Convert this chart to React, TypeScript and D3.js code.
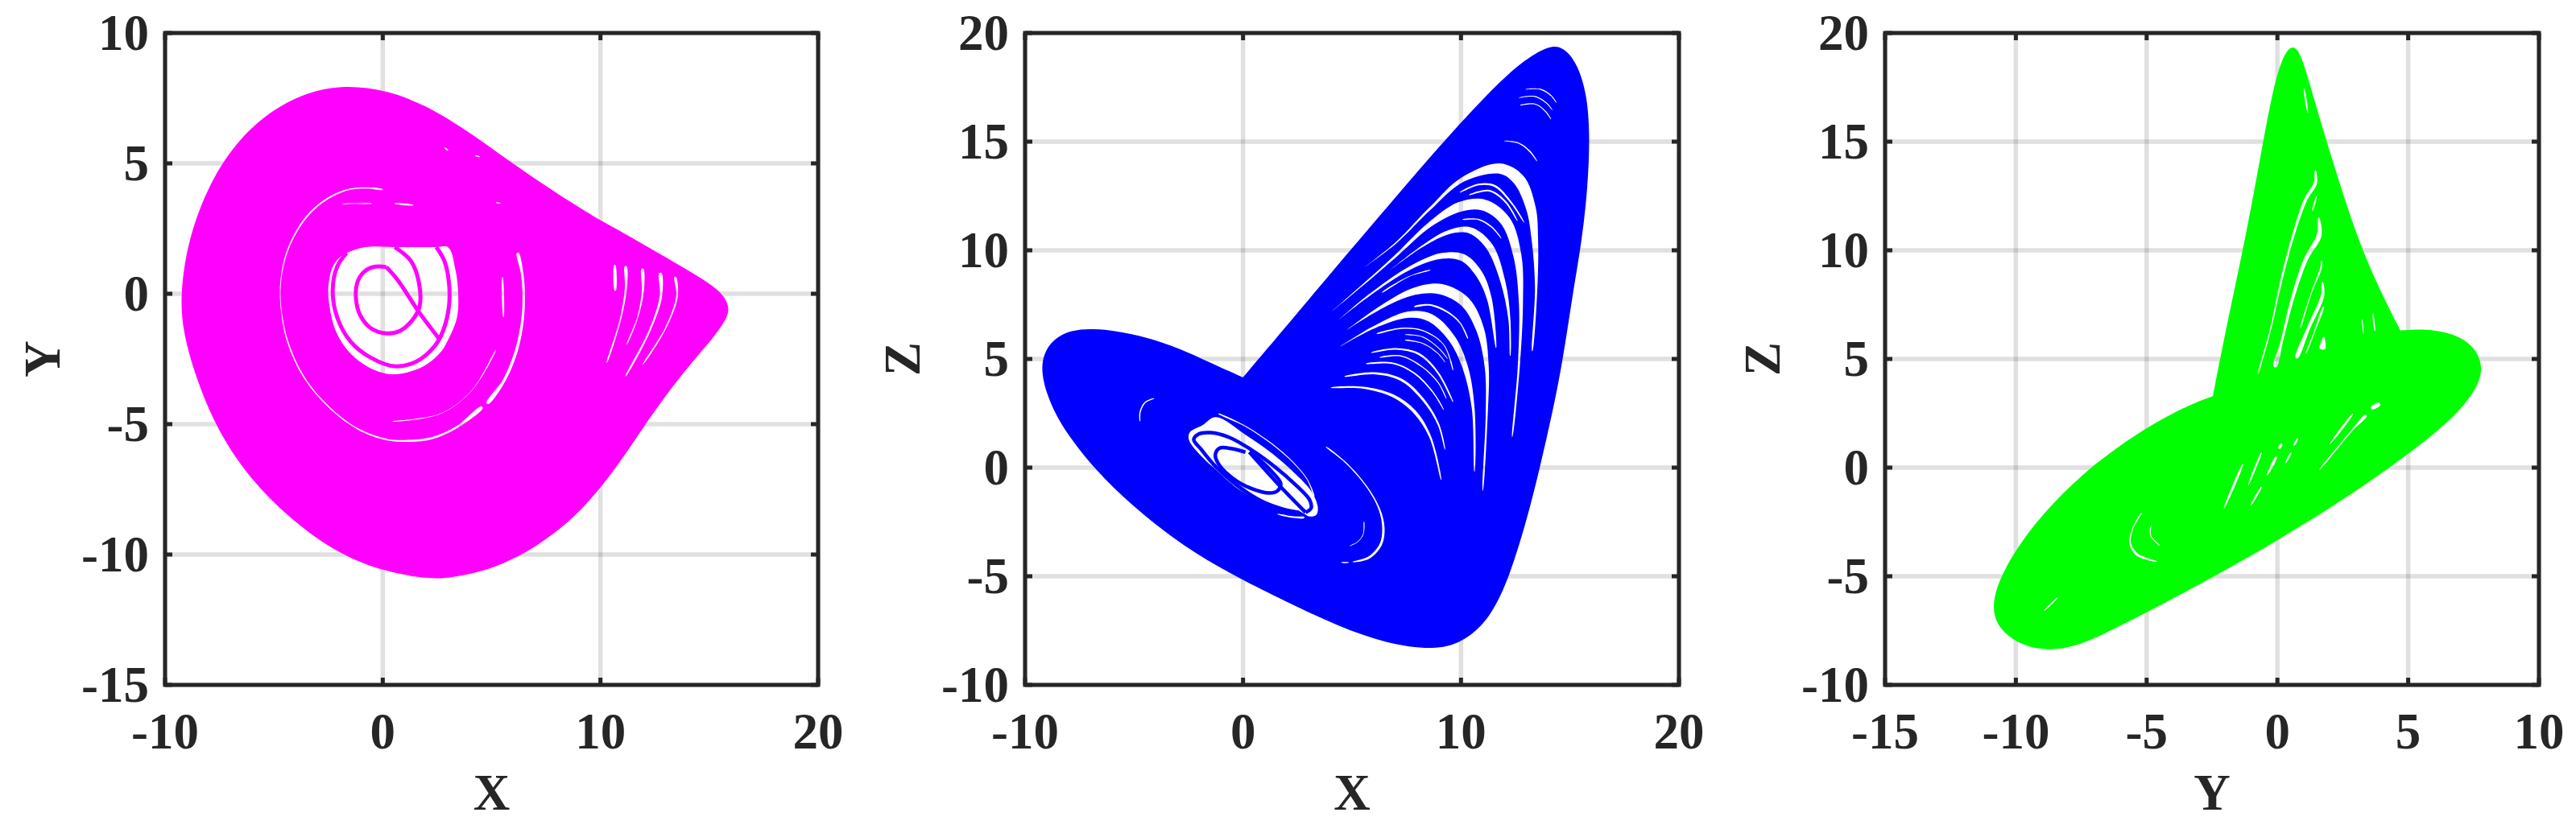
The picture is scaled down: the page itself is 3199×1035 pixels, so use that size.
import React from "react";
import * as d3 from "d3";

type P = number[];

// ---------- Outlines of the filled attractor projections (data units) ----------
const xyOutline: P[] = [[-9.3,0],[-8.95,2.08],[-7.95,4.3],[-6.6,5.95],[-5.08,7.07],[-3.3,7.8],[-1.58,8.0],[0.18,7.8],[1.9,7.27],[3.9,6.25],[5.9,5.03],[7.9,3.9],[9.9,2.85],[10.54,2.59],[12.75,1.51],[15.22,0.33],[15.77,-0.19],[15.92,-0.6],[15.77,-1.01],[15.09,-1.78],[14.6,-2.24],[13.62,-3.22],[12.75,-4.2],[12.01,-5.07],[11.15,-6.15],[10.17,-7.28],[9.06,-8.36],[7.83,-9.24],[6.35,-10.06],[4.74,-10.63],[3.14,-10.89],[2.2,-10.95],[-0.07,-10.65],[-2.3,-9.85],[-4.3,-8.6],[-6.1,-7.1],[-7.6,-5.25],[-8.6,-3.2],[-9.2,-1.4]];
const xzOutline: P[] = [[0,4.15],[0,4.15],[0,4.15],[1.85,6.34],[4.09,9.02],[6.58,11.95],[9.08,14.88],[11.3,17.3],[12.8,18.7],[14.06,19.45],[14.7,19.35],[15.3,18.66],[15.76,17.3],[15.92,15.4],[15.82,12.9],[15.54,10.38],[15.11,7.92],[14.68,4.96],[14.19,2.5],[13.63,0.04],[13.02,-2.43],[12.22,-5.01],[11.6,-6.37],[10.93,-7.35],[9.95,-8.09],[8.72,-8.4],[6.58,-8.1],[4.34,-7.3],[1.85,-6.1],[-0.15,-5.12],[-2.72,-3.66],[-5.18,-1.69],[-6.78,-0.09],[-7.77,1.15],[-8.51,2.25],[-9,3.36],[-9.25,4.35],[-9.18,5.21],[-8.69,5.93],[-7.89,6.33],[-6.9,6.4],[-5.8,6.29],[-4.45,6.01],[-2.97,5.52],[-1.49,4.82],[0,4.15],[0,4.15],[0,4.15]];
const yzOutline: P[] = [[-2.47,3.29],[-2.47,3.29],[-2.47,3.29],[-1.85,7.07],[-1.23,10.49],[-0.6,14.63],[-0.19,17.32],[0.2,18.95],[0.58,19.5],[0.92,19.02],[1.37,17.07],[2.1,14.15],[2.93,10.98],[3.76,8.54],[4.7,6.31],[4.7,6.31],[4.7,6.31],[5.63,6.39],[6.67,6.2],[7.5,5.65],[7.9,4.63],[7.6,3.54],[6.67,2.2],[5.0,0.61],[2.72,-1.34],[-0.39,-3.66],[-3.51,-5.73],[-6.63,-7.68],[-7.88,-8.3],[-8.92,-8.42],[-9.95,-8.1],[-10.72,-7.32],[-10.93,-6.34],[-10.58,-4.88],[-9.33,-2.56],[-7.46,-0.24],[-5.38,1.59],[-3.51,2.83],[-2.47,3.29],[-2.47,3.29],[-2.47,3.29]];

// ---------- Open central holes ----------
const xyHoles: P[][] = [[[-0.8,1.79],[0.8,1.79],[2.4,1.79],[3.02,1.77],[3.33,0.95],[3.45,0.23],[3.41,-0.91],[2.9,-1.93],[2.71,-2.19],[1.91,-2.76],[0.55,-3.09],[-0.55,-2.86],[-1.54,-2.24],[-2.16,-1.42],[-2.46,-0.39],[-2.5,0.23],[-2.34,0.95],[-2.03,1.36],[-1.66,1.56]]];
const xzHoles: P[][] = [[[-1.25,2.32],[0.1,1.52],[1.34,0.65],[2.32,-0.21],[3.12,-1.07],[3.43,-1.81],[3.36,-2.18],[3.06,-2.25],[2.57,-2.0],[1.83,-1.87],[0.84,-1.56],[-0.26,-0.95],[-1.25,-0.09],[-1.86,0.47],[-2.48,1.27],[-2.45,1.61],[-1.86,1.95]]];

// ---------- Orbits still visible inside the holes ----------
const xyOrbits: P[][] = [
  [[-1.66,1.56],[-2.09,1.05],[-2.3,0.12],[-2.09,-0.91],[-1.48,-1.83],[-0.55,-2.45],[0.55,-2.78],[1.54,-2.6],[2.4,-1.99],[2.77,-1.42],[3.04,-0.49],[3.04,0.43],[2.83,1.26],[2.46,1.79]],
  [[0.55,1.79],[1.29,1.26],[1.66,0.43],[1.69,-0.49],[1.36,-1.01],[0.8,-1.42],[0.18,-1.52],[-0.55,-1.32],[-1.05,-0.8],[-1.23,-0.19],[-1.17,0.43],[-0.86,0.84],[-0.43,1.03],[0.16,1.03]],
  [[0.16,1.03],[0.68,0.53],[1.66,-0.7],[2.59,-1.73]],
];
const xzOrbits: P[][] = [
  [[2.57,-2.06],[1.83,-1.91],[0.84,-1.54],[-0.26,-0.83],[-1.25,0.04],[-1.92,0.84],[-2.26,1.29],[-2.05,1.54],[-1.49,1.61],[-0.63,1.39],[0.35,0.84],[1.46,0.04],[2.44,-0.82],[3.06,-1.5],[3.12,-1.87],[2.87,-2.06]],
  [[0.11,0.71],[-0.51,0.87],[-1.07,0.9],[-1.27,0.59],[-1.12,0.16],[-0.51,-0.46],[0.35,-0.95],[1.21,-1.17],[1.58,-1.07],[1.73,-0.73],[1.34,-0.21],[0.78,0.34],[0.29,0.71]],
  [[0.29,0.71],[1.73,-0.89],[2.87,-2.06]],
];

// ---------- Gaps between sheets: [a, b, gap thickness] ----------
const xyGaps: P[][] = [
  [[0,4.0,1],[-0.8,4.06,1.5],[-1.66,3.98,1.5],[-2.77,3.52,2],[-3.64,2.8,2],[-4.37,1.67,1.5],[-4.68,0.53,1],[-4.68,-0.49,0.8],[-4.37,-1.83,1.5],[-3.64,-3.17,1.5],[-2.53,-4.3,1.5],[-1.17,-5.17,1.5],[0.18,-5.59,2],[1.17,-5.64,2.5],[2.28,-5.53,2.5],[3.39,-5.12,2.5],[4.56,-4.35,3]],
  [[4.81,-4.2,3],[5.61,-3.27,3.5],[6.22,-1.93,3.5],[6.47,-0.49,3],[6.41,0.74,3],[6.2,1.56,2.5]],
  [[-1.86,3.45,0.3],[-1.3,3.46,0.8],[-0.5,3.46,0.5]],
  [[0.55,3.46,0.6],[1.4,3.4,0.6]],
  [[5.5,0.64,0.5],[5.55,-0.9,0.5]],
  [[5.2,-2.15,0.3],[4.1,-3.7,0.5],[2.65,-4.6,0.5],[0.43,-4.9,0.2]],
  [[10.66,1.1,1.5],[10.68,0.12,1.5]],
  [[11.16,1.05,2.5],[11.17,0.23,2.5],[10.91,-1.01,1.5],[10.29,-2.65,0.4]],
  [[11.93,0.95,2.5],[11.95,0.12,2.5],[11.71,-0.9,1.2],[11.21,-1.94,0.4]],
  [[12.75,0.79,3],[12.78,-0.08,3],[12.26,-1.42,2],[11.15,-3.17,0.4]],
  [[13.43,0.64,2],[13.52,-0.08,2],[12.99,-1.32,1.5],[11.95,-2.71,0.4]],
  [[2.85,5.6,1],[3.0,5.5,1]],
  [[4.25,5.3,0.8],[4.45,5.25,0.8]],
  [[5.2,3.5,0.6],[5.4,3.48,0.6]],
];
const xzGaps: P[][] = [
  [[12.96,17.41,0.3],[13.64,17.41,1.2],[14.13,17.12,1.2],[14.38,16.79,0.3]],
  [[12.65,17.02,0.3],[13.39,17.08,1.2],[13.94,16.76,1.2],[14.19,16.46,0.3]],
  [[12.71,16.68,0.3],[13.39,16.73,1.2],[13.88,16.39,1.2],[14.13,16.03,0.3]],
  [[11.98,15.03,0.3],[12.65,14.93,1.5],[13.15,14.56,1.5],[13.49,14.1,0.3]],
  [[5.58,9.23,0],[7.0,10.33,1.5],[8.59,11.93,3],[10.07,13.25,6],[11.79,13.76,13],[12.65,13.25,15],[13.21,11.93,12],[13.39,10.47,8],[13.45,8.28,3],[13.27,5.36,0.5]],
  [[3.98,7.11,0],[5.52,8.43,1.5],[7.0,9.74,3],[8.59,11.2,6],[9.95,12.0,12],[11.05,12.08,14],[12.04,11.35,13],[12.59,9.74,10],[12.75,7.55,5],[12.65,4.63,2.5],[12.35,1.41,0.3]],
  [[6.75,9.09,0],[8.22,10.18,2],[9.45,10.84,5],[10.44,10.91,8],[11.3,10.18,9],[11.92,8.57,6],[12.22,6.82,2.5],[12.26,5.14,0.3]],
  [[4.41,6.82,0],[5.77,7.92,2],[7.61,9.16,4],[9.09,9.74,7],[10.07,9.67,9],[10.81,8.94,9],[11.3,7.77,6],[11.61,5.51,0.3]],
  [[4.72,6.31,0],[6.38,7.41,4],[7.86,8.11,9],[9.09,8.21,13],[10.19,7.62,13],[10.87,6.38,10],[11.18,4.63,5],[11.18,2.44,2.5],[11.0,-1.07,0.3]],
  [[4.35,5.51,0],[6.01,6.46,3],[7.61,7.04,8],[8.59,6.89,10],[9.58,5.94,9],[10.19,4.63,7],[10.56,2.73,3.5],[10.62,-0.19,0.3]],
  [[7.86,7.41,1],[8.59,7.48,2],[9.33,7.19,2],[9.95,6.67,1.5],[10.32,5.94,0.5]],
  [[6.38,8.06,0.5],[7.61,8.79,0.8],[8.59,9.09,0.5]],
  [[6.13,6.16,0.5],[7.24,6.41,1.5],[8.23,6.31,1.5],[9.21,5.65,1],[9.64,4.48,0.4]],
  [[7.43,6.12,0.5],[8.23,6.02,1],[8.96,5.51,1],[9.39,5.0,0.3]],
  [[7.43,5.87,0.5],[8.23,5.72,1],[8.9,5.29,1],[9.27,4.85,0.3]],
  [[5.89,5.29,0.5],[7.0,5.46,2],[8.1,5.21,2.5],[8.96,4.34,2],[9.64,3.02,0.3]],
  [[6.26,5.07,0.5],[7.24,5.14,1.5],[8.23,4.63,1.5],[8.96,3.9,1.2],[9.33,3.17,0.3]],
  [[5.64,4.78,0.5],[6.87,4.8,1.8],[7.86,4.34,1.8],[8.72,3.46,1.5],[9.21,2.66,0.3]],
  [[4.66,4.19,0.5],[6.01,4.34,2.5],[7.24,4.05,3],[8.23,3.17,3],[8.96,2.0,2],[9.27,0.83,0.3]],
  [[4.04,3.68,0.5],[5.52,3.68,2.5],[6.87,3.31,3.5],[7.86,2.58,4],[8.59,1.41,2.5],[9.09,-0.56,0.3]],
  [[9.95,12.67,0.5],[10.81,13.03,2],[11.55,12.96,2.5],[12.28,12.23,2],[12.9,11.28,0.3]],
  [[10.38,12.55,0.5],[11.3,12.74,2],[12.04,12.23,2],[12.59,11.35,0.3]],
  [[10.07,11.42,0.5],[10.81,11.42,1.5],[11.42,11.06,1.5],[11.85,10.55,0.3]],
  [[-1.13,2.48,0.5],[0.1,1.91,1.2],[1.34,1.08,1.2],[2.32,0.22,1.2],[2.93,-0.52,1],[3.27,-1.32,0.5]],
  [[1.58,-2.14,0.5],[2.32,-2.28,2],[2.81,-2.3,1.5]],
  [[3.8,0.96,0.5],[4.66,0.28,1.5],[5.64,-0.83,1.5],[6.26,-1.93,2],[6.44,-2.8,3],[6.32,-3.53,3],[5.76,-4.15,3],[5.03,-4.34,0.5]],
  [[4.5,-4.37,0.6],[4.85,-4.37,0.6]],
  [[5.55,-2.49,0.5],[5.52,-3.04,0.8],[5.27,-3.41,0.8],[4.9,-3.6,0.4]],
  [[-4.08,3.18,0.5],[-4.5,2.99,1.5],[-4.72,2.56,1.5],[-4.73,2.13,0.5]],
];
const yzGaps: P[][] = [
  [[1.45,13.68,1],[1.45,13.09,4],[1.09,12.36,4],[0.63,10.78,3],[0.16,8.67,2.5],[-0.25,6.42,1.5],[-0.74,4.31,0.3]],
  [[1.58,11.5,1],[1.6,10.71,6],[1.09,9.59,5],[0.57,7.75,4],[0.16,5.77,3],[-0.09,4.64,4]],
  [[1.68,9.53,0.5],[1.68,9.26,2],[1.29,8.01,1],[0.88,6.42,0.4]],
  [[1.72,8.54,1],[1.73,7.94,4],[1.19,6.42,4],[0.73,5.04,3]],
  [[1.77,7.41,1],[1.39,6.16,1.2],[1.09,5.24,0.4]],
  [[1.78,6.03,0.5],[1.72,5.47,7]],
  [[1.5,12.49,0.6],[1.34,11.83,0.6]],
  [[-5.19,-2.08,0.5],[-5.53,-2.81,1.2],[-5.63,-3.47,2],[-5.37,-4.0,3],[-4.6,-4.33,0.5]],
  [[-4.84,-2.68,0.5],[-4.84,-3.14,1],[-4.5,-3.58,0.5]],
  [[3.91,2.93,3.5],[3.6,2.73,3.5]],
  [[3.39,2.4,2.5],[2.83,1.68,1.5],[1.6,-0.11,0.3]],
  [[2.88,2.47,0.8],[2.01,1.08,0.3]],
  [[-1.32,0.16,0.8],[-2.04,-1.89,0.3]],
  [[-0.61,0.69,0.6],[-1.12,-0.83,0.3]],
  [[0.16,1.08,2.5],[0.06,0.88,2.5]],
  [[-0.04,0.49,2],[-0.4,-0.37,0.5]],
  [[0.78,1.35,1.2],[0.63,1.02,1.2]],
  [[0.52,0.69,0.8],[0.32,0.22,0.8]],
  [[-0.61,-0.9,0.8],[-1.02,-1.75,0.3]],
  [[3.65,7.08,0.5],[3.73,6.29,0.5]],
  [[3.24,6.82,0.3],[3.29,6.16,0.3]],
  [[-8.4,-5.98,0.4],[-8.92,-6.59,0.4]],
  [[1.02,17.44,0.5],[1.16,16.34,0.5]],
];

// ---------- Axes ----------
const xTicks1 = [-10, 0, 10, 20];
const yTicks1 = [-15, -10, -5, 0, 5, 10];
const xTicks2 = [-10, 0, 10, 20];
const zTicks = [-10, -5, 0, 5, 10, 15, 20];
const yTicks3 = [-15, -10, -5, 0, 5, 10];

const INK = "#262626";
const FONT = "'Liberation Serif', 'Times New Roman', serif";

const panels = [
  { id: "xy", left: 205, right: 1016, xDomain: [-10, 20], yDomain: [-15, 10], xTicks: xTicks1, yTicks: yTicks1, xLabel: "X", yLabel: "Y", color: "#ff00ff", outline: xyOutline, closed: true, holes: xyHoles, orbits: xyOrbits, gaps: xyGaps, orbitWidth: 5 },
  { id: "xz", left: 1273, right: 2085, xDomain: [-10, 20], yDomain: [-10, 20], xTicks: xTicks2, yTicks: zTicks, xLabel: "X", yLabel: "Z", color: "#0000ff", outline: xzOutline, closed: false, holes: xzHoles, orbits: xzOrbits, gaps: xzGaps, orbitWidth: 4.5 },
  { id: "yz", left: 2341, right: 3153, xDomain: [-15, 10], yDomain: [-10, 20], xTicks: yTicks3, yTicks: zTicks, xLabel: "Y", yLabel: "Z", color: "#00ff00", outline: yzOutline, closed: false, holes: [] as P[][], orbits: [] as P[][], gaps: yzGaps, orbitWidth: 4 },
];
const TOP = 41;
const BOTTOM = 851;

function gapPath(pts: P[], sx: (v: number) => number, sy: (v: number) => number): string {
  const px = pts.map((p) => [sx(p[0]), sy(p[1]), p[2]]);
  const upper: [number, number][] = [];
  const lower: [number, number][] = [];
  px.forEach((p, i) => {
    const a = px[Math.max(0, i - 1)];
    const b = px[Math.min(px.length - 1, i + 1)];
    const dx = b[0] - a[0];
    const dy = b[1] - a[1];
    const len = Math.hypot(dx, dy) || 1;
    const nx = (-dy / len) * (p[2] / 2);
    const ny = (dx / len) * (p[2] / 2);
    upper.push([p[0] + nx, p[1] + ny]);
    lower.push([p[0] - nx, p[1] - ny]);
  });
  const ring = [...upper, ...lower.reverse()];
  return d3.line().curve(d3.curveCatmullRomClosed.alpha(0.5))(ring) || "";
}

function Panel({ p }: { p: (typeof panels)[number] }) {
  const sx = d3.scaleLinear().domain(p.xDomain).range([p.left, p.right]);
  const sy = d3.scaleLinear().domain(p.yDomain).range([BOTTOM, TOP]);
  const line = d3
    .line<P>()
    .x((d) => sx(d[0]))
    .y((d) => sy(d[1]));
  const outlinePath = line.curve(p.closed ? d3.curveBasisClosed : d3.curveBasis)(p.outline) + "Z";
  const holePaths = p.holes.map((h) => line.curve(d3.curveCatmullRomClosed.alpha(0.5))(h) || "");
  const orbitPaths = p.orbits.map((o) => line.curve(d3.curveCatmullRom.alpha(0.5))(o) || "");
  const tickLen = 9;
  const mid = (p.left + p.right) / 2;
  const yMid = (TOP + BOTTOM) / 2;
  return (
    <g>
      <defs>
        <mask id={`m-${p.id}`} maskUnits="userSpaceOnUse" x={0} y={0} width={3199} height={1035}>
          <rect x={0} y={0} width={3199} height={1035} fill="#fff" />
          {holePaths.map((d, i) => (
            <path key={i} d={d} fill="#000" />
          ))}
          {p.gaps.map((g, i) => (
            <path key={i} d={gapPath(g, sx, sy)} fill="#000" />
          ))}
        </mask>
      </defs>
      {p.xTicks.map((t) => (
        <line key={t} x1={sx(t)} x2={sx(t)} y1={TOP} y2={BOTTOM} stroke={INK} strokeOpacity={0.14} strokeWidth={5.5} />
      ))}
      {p.yTicks.map((t) => (
        <line key={t} x1={p.left} x2={p.right} y1={sy(t)} y2={sy(t)} stroke={INK} strokeOpacity={0.14} strokeWidth={5.5} />
      ))}
      <path d={outlinePath} fill={p.color} mask={`url(#m-${p.id})`} />
      {orbitPaths.map((d, i) => (
        <path key={i} d={d} fill="none" stroke={p.color} strokeWidth={p.orbitWidth} strokeLinejoin="round" />
      ))}
      {p.xTicks.map((t) => (
        <g key={t}>
          <line x1={sx(t)} x2={sx(t)} y1={BOTTOM} y2={BOTTOM - tickLen} stroke={INK} strokeWidth={5} />
          <line x1={sx(t)} x2={sx(t)} y1={TOP} y2={TOP + tickLen} stroke={INK} strokeWidth={5} />
          <text x={sx(t)} y={930} textAnchor="middle" fontFamily={FONT} fontWeight="bold" fontSize={63} fill={INK}>
            {t}
          </text>
        </g>
      ))}
      {p.yTicks.map((t) => (
        <g key={t}>
          <line x1={p.left} x2={p.left + tickLen} y1={sy(t)} y2={sy(t)} stroke={INK} strokeWidth={5} />
          <line x1={p.right} x2={p.right - tickLen} y1={sy(t)} y2={sy(t)} stroke={INK} strokeWidth={5} />
          <text x={p.left - 20} y={sy(t) + 21} textAnchor="end" fontFamily={FONT} fontWeight="bold" fontSize={63} fill={INK}>
            {t}
          </text>
        </g>
      ))}
      <rect x={p.left} y={TOP} width={p.right - p.left} height={BOTTOM - TOP} fill="none" stroke={INK} strokeWidth={5} />
      <text x={mid} y={1006} textAnchor="middle" fontFamily={FONT} fontWeight="bold" fontSize={63} fill={INK}>
        {p.xLabel}
      </text>
      <text
        transform={`translate(${p.left - 131},${yMid}) rotate(-90)`}
        textAnchor="middle"
        fontFamily={FONT}
        fontWeight="bold"
        fontSize={63}
        fill={INK}
      >
        {p.yLabel}
      </text>
    </g>
  );
}

export default function App() {
  return (
    <svg
      width={3199}
      height={1035}
      viewBox="0 0 3199 1035"
      style={{ position: "absolute", left: 0, top: 0, display: "block", background: "#fff" }}
    >
      {panels.map((p) => (
        <Panel key={p.id} p={p} />
      ))}
    </svg>
  );
}
